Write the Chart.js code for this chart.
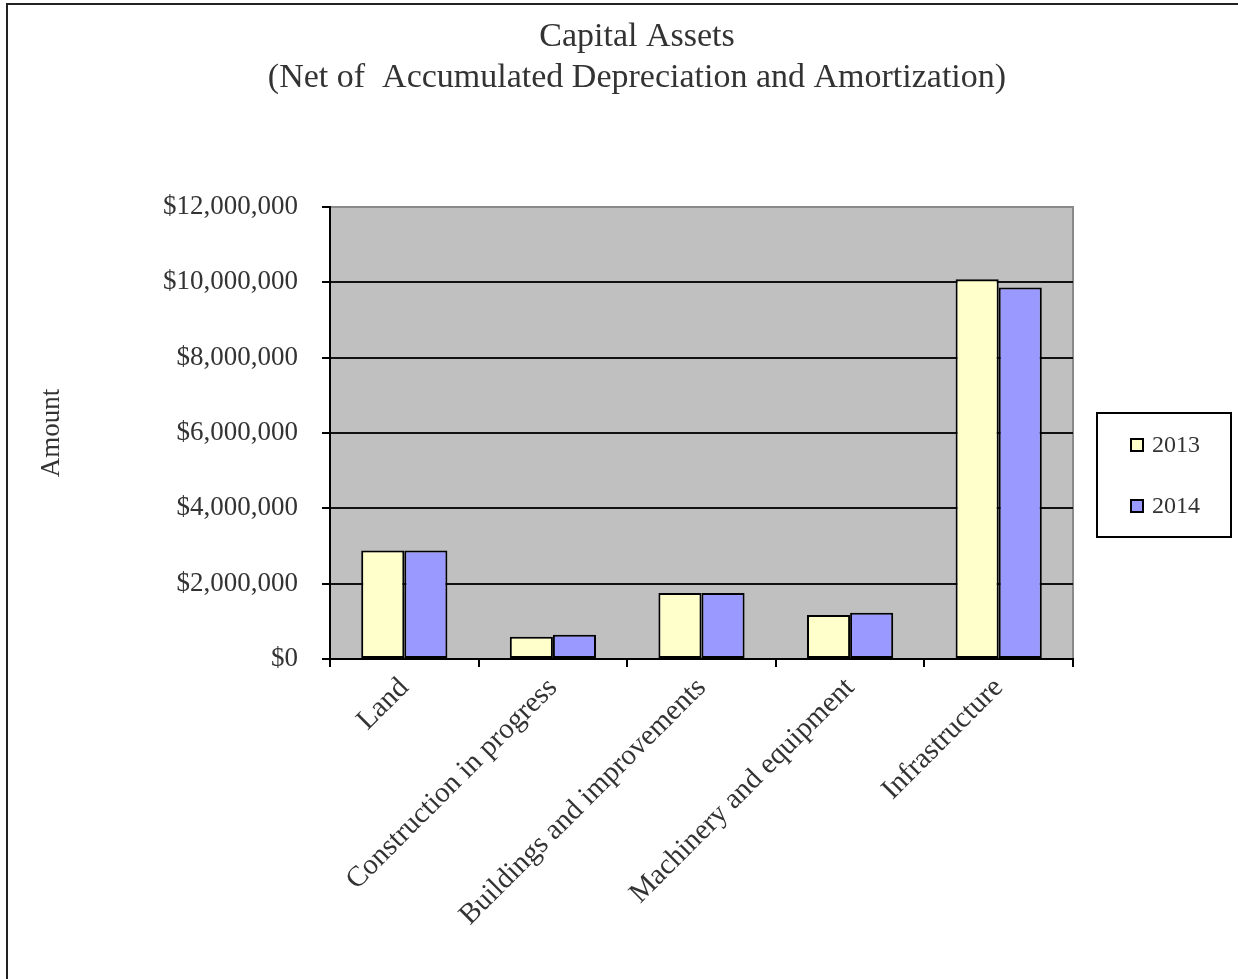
<!DOCTYPE html>
<html>
<head>
<meta charset="utf-8">
<script src="https://cdn.jsdelivr.net/npm/chart.js@4/dist/chart.umd.min.js"></script>
<style>
  html, body { margin: 0; padding: 0; background: #fff; overflow: hidden; }
  #frame { position: absolute; left: 6px; top: 3px; width: 1400px; height: 1200px;
           border-left: 2px solid #222; border-top: 2px solid #222; }
  #wrap { position: absolute; left: 0; top: 0; width: 1238px; height: 979px; }
</style>
</head>
<body>
<div id="frame"></div>
<div id="wrap"><canvas id="chart"></canvas></div>
<script>
// --- Data ---
const categories = ['Land', 'Construction in progress', 'Buildings and improvements', 'Machinery and equipment', 'Infrastructure'];
const seriesNames = ['2013', '2014'];
const values2013 = [2880000, 590000, 1750000, 1170000, 10080000];
const values2014 = [2880000, 645000, 1750000, 1230000, 9860000];
const yTicks = [0, 2000000, 4000000, 6000000, 8000000, 10000000, 12000000];

const FONT = '"Liberation Serif", "Times New Roman", serif';
const TEXT = '#333';

// gray plot area with a darker edge on top and right
const plotArea = {
    id: 'plotArea',
    beforeDraw(chart) {
        const { ctx, chartArea: a } = chart;
        ctx.save();
        ctx.fillStyle = '#c0c0c0';
        ctx.fillRect(a.left, a.top, a.right - a.left, a.bottom - a.top);
        ctx.strokeStyle = '#8a8a8a';
        ctx.lineWidth = 2;
        ctx.beginPath();
        ctx.moveTo(a.left, a.top);
        ctx.lineTo(a.right, a.top);
        ctx.lineTo(a.right, a.bottom);
        ctx.stroke();
        ctx.restore();
    }
};

// boxed legend to the right of the plot
const boxLegend = {
    id: 'boxLegend',
    afterDraw(chart) {
        const { ctx } = chart;
        ctx.save();
        ctx.strokeStyle = '#000';
        ctx.lineWidth = 2;
        ctx.strokeRect(1097, 413, 134, 124);
        ctx.font = '24px ' + FONT;
        ctx.textBaseline = 'middle';
        chart.data.datasets.forEach((ds, i) => {
            const y = 445 + i * 61;
            ctx.fillStyle = ds.backgroundColor;
            ctx.fillRect(1131, y - 6, 12, 12);
            ctx.strokeStyle = '#000';
            ctx.lineWidth = 2;
            ctx.strokeRect(1131, y - 6, 12, 12);
            ctx.fillStyle = TEXT;
            ctx.fillText(ds.label, 1152, y + 1);
        });
        ctx.restore();
    }
};

new Chart(document.getElementById('chart'), {
    type: 'bar',
    data: {
        labels: categories,
        datasets: [{
            label: seriesNames[0],
            data: values2013,
            backgroundColor: '#ffffcc',
            borderColor: '#000',
            borderWidth: 2,
            borderSkipped: false
        }, {
            label: seriesNames[1],
            data: values2014,
            backgroundColor: '#9999ff',
            borderColor: '#000',
            borderWidth: 2,
            borderSkipped: false
        }]
    },
    options: {
        responsive: true,
        maintainAspectRatio: false,
        animation: false,
        datasets: { bar: { categoryPercentage: 0.58, barPercentage: 1.0 } },
        layout: { padding: { left: 36, top: 0, right: 0, bottom: 0 } },
        scales: {
            x: {
                afterFit: (s) => { s.height = 320; },
                grid: { drawOnChartArea: false, drawTicks: true, tickLength: 8, color: '#000', lineWidth: 2 },
                border: { color: '#000', width: 2 },
                ticks: {
                    autoSkip: false, minRotation: 45, maxRotation: 45, padding: 4,
                    color: TEXT, font: { family: FONT, size: 29 }
                }
            },
            y: {
                min: 0,
                max: 12000000,
                afterFit: (s) => { s.width = 294; },
                afterBuildTicks: (s) => { s.ticks = yTicks.map(v => ({ value: v })); },
                grid: {
                    color: (c) => c.tick && c.tick.value === 12000000 ? 'rgba(0,0,0,0)' : '#111',
                    tickColor: '#000', lineWidth: 2, tickLength: 8
                },
                border: { color: '#000', width: 2 },
                ticks: {
                    padding: 24,
                    color: TEXT,
                    font: { family: FONT, size: 27 },
                    callback: (v) => '$' + Number(v).toLocaleString('en-US')
                },
                title: {
                    display: true, text: 'Amount', color: TEXT,
                    font: { family: FONT, size: 27 }, padding: { top: 0, bottom: 0 }
                }
            },
            // empty right-hand band that reserves room for the legend box
            spacer: {
                type: 'linear',
                position: 'right',
                afterFit: (s) => { s.width = 165; },
                grid: { display: false },
                ticks: { display: false },
                border: { display: false }
            }
        },
        plugins: {
            legend: { display: false },
            tooltip: { enabled: false },
            title: {
                display: true,
                text: ['Capital Assets', '(Net of  Accumulated Depreciation and Amortization)'],
                color: TEXT,
                font: { family: FONT, size: 34, weight: 'normal', lineHeight: 1.206 },
                padding: { top: 16.5, bottom: 108.5 }
            }
        }
    },
    plugins: [plotArea, boxLegend]
});
</script>
</body>
</html>
